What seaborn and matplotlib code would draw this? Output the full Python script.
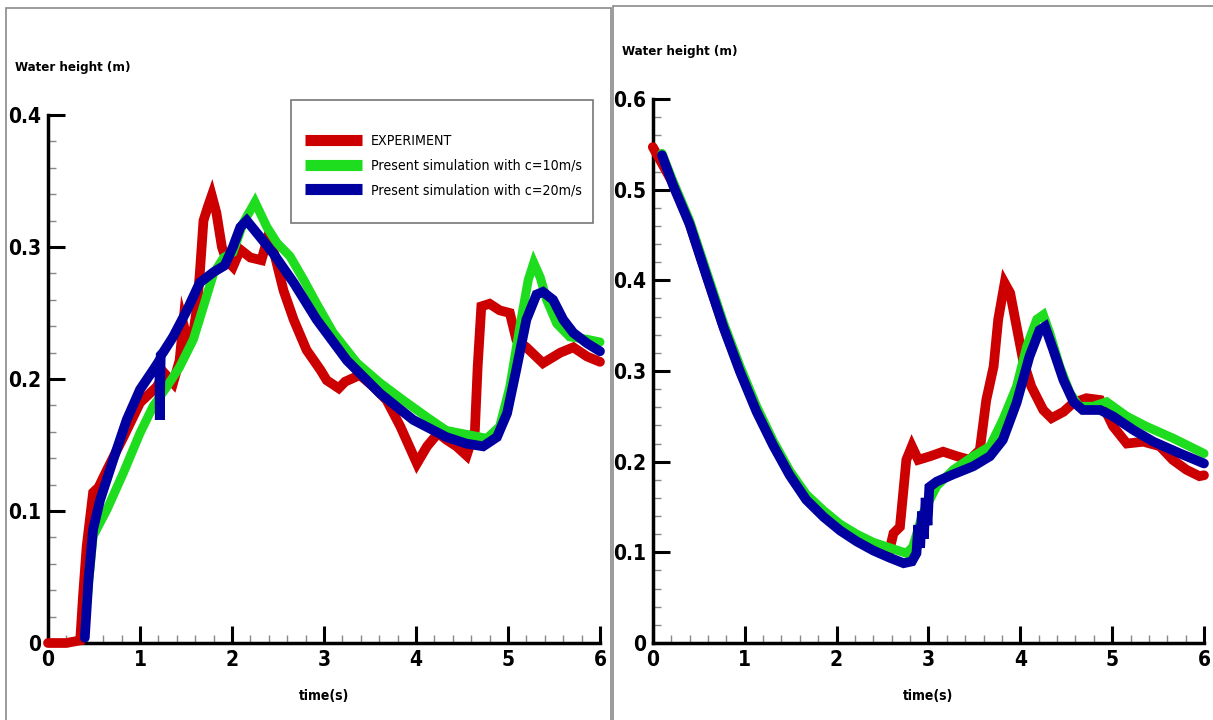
import matplotlib
matplotlib.use("Agg")
import matplotlib.pyplot as plt
import pandas as pd
import seaborn as sns
from matplotlib.patches import Rectangle
from matplotlib.ticker import FuncFormatter, MultipleLocator

# ---- data ----
# left panel
t_exp_left = [0, 0.2, 0.35, 0.38, 0.42, 0.49, 0.55, 0.64, 0.82, 1.0,
              1.18, 1.27, 1.36, 1.43, 1.47, 1.52, 1.58, 1.62, 1.65, 1.69,
              1.74, 1.78, 1.83, 1.89, 1.94, 2.01, 2.09, 2.2, 2.32, 2.38,
              2.46, 2.56, 2.67, 2.81, 2.96, 3.03, 3.16, 3.23, 3.39, 3.54,
              3.68, 3.83, 4.01, 4.12, 4.24, 4.33, 4.44, 4.55, 4.64, 4.67,
              4.71, 4.8, 4.91, 5.02, 5.09, 5.2, 5.38, 5.57, 5.71, 5.86, 6.0]
h_exp_left = [0, 0, 0.002, 0.035, 0.073, 0.114, 0.118, 0.131, 0.156, 0.182,
              0.194, 0.204, 0.197, 0.214, 0.242, 0.228, 0.235, 0.255, 0.28, 0.32,
              0.331, 0.339, 0.326, 0.30, 0.29, 0.285, 0.298, 0.292, 0.29, 0.305,
              0.295, 0.267, 0.245, 0.222, 0.207, 0.199, 0.193, 0.198, 0.203, 0.194,
              0.184, 0.164, 0.136, 0.149, 0.159, 0.154, 0.149, 0.142, 0.161, 0.209,
              0.255, 0.257, 0.252, 0.25, 0.23, 0.224, 0.212, 0.22, 0.224, 0.217, 0.213]

t_c10_left = [0.42, 0.49, 0.64, 0.82, 1.0, 1.14, 1.29, 1.43, 1.58, 1.69,
              1.8, 1.91, 2.01, 2.12, 2.25, 2.38, 2.49, 2.63, 2.78, 2.92,
              3.1, 3.36, 3.61, 3.86, 4.12, 4.33, 4.55, 4.77, 4.91, 5.02,
              5.13, 5.22, 5.28, 5.35, 5.42, 5.53, 5.67, 5.86, 6.0]
h_c10_left = [0.03, 0.081, 0.101, 0.129, 0.159, 0.179, 0.194, 0.209, 0.23, 0.255,
              0.28, 0.292, 0.296, 0.318, 0.334, 0.315, 0.303, 0.293, 0.275, 0.257,
              0.235, 0.212, 0.197, 0.184, 0.171, 0.161, 0.158, 0.155, 0.164, 0.194,
              0.24, 0.275, 0.288, 0.277, 0.26, 0.242, 0.232, 0.23, 0.228]

t_c20_left = [0.4, 0.44, 0.49, 0.565, 0.71, 0.855, 1.0, 1.145, 1.21, 1.215,
              1.225, 1.25, 1.36, 1.51, 1.65, 1.8, 1.92, 2.01, 2.09, 2.16,
              2.3, 2.45, 2.67, 2.92, 3.25, 3.61, 3.97, 4.33, 4.55, 4.73,
              4.88, 4.99, 5.09, 5.2, 5.31, 5.38, 5.49, 5.6, 5.71, 5.86, 6.0]
h_c20_left = [0.004, 0.048, 0.086, 0.108, 0.139, 0.169, 0.192, 0.207, 0.214, 0.169,
              0.218, 0.22, 0.232, 0.252, 0.273, 0.281, 0.286, 0.30, 0.315, 0.32,
              0.308, 0.295, 0.273, 0.245, 0.214, 0.189, 0.169, 0.156, 0.151, 0.149,
              0.156, 0.174, 0.207, 0.245, 0.264, 0.266, 0.26, 0.245, 0.235, 0.227, 0.221]

# right panel
t_exp_right = [0.0, 0.22, 0.4, 0.59, 0.77, 0.95, 1.13, 1.31, 1.49, 1.67,
               1.86, 2.04, 2.22, 2.4, 2.58, 2.62, 2.69, 2.76, 2.82, 2.89,
               3.02, 3.16, 3.31, 3.45, 3.56, 3.63, 3.71, 3.76, 3.83, 3.89,
               3.96, 4.03, 4.12, 4.25, 4.34, 4.47, 4.58, 4.72, 4.87, 5.01,
               5.16, 5.34, 5.52, 5.66, 5.81, 5.95, 6.0]
h_exp_right = [0.547, 0.507, 0.463, 0.404, 0.349, 0.301, 0.257, 0.22, 0.187, 0.161,
               0.143, 0.128, 0.117, 0.108, 0.104, 0.121, 0.128, 0.202, 0.217, 0.202,
               0.206, 0.211, 0.206, 0.202, 0.213, 0.268, 0.305, 0.357, 0.397, 0.386,
               0.349, 0.312, 0.283, 0.257, 0.248, 0.255, 0.265, 0.27, 0.268, 0.239,
               0.22, 0.222, 0.217, 0.202, 0.191, 0.184, 0.185]

t_c10_right = [0.1, 0.22, 0.4, 0.59, 0.77, 0.95, 1.13, 1.31, 1.49, 1.67,
               1.86, 2.04, 2.22, 2.4, 2.58, 2.76, 2.83, 2.94, 3.09, 3.27,
               3.49, 3.67, 3.81, 3.96, 4.07, 4.18, 4.25, 4.32, 4.43, 4.54,
               4.64, 4.79, 4.94, 5.16, 5.37, 5.66, 6.0]
h_c10_right = [0.54, 0.509, 0.466, 0.408, 0.353, 0.305, 0.261, 0.223, 0.19, 0.164,
               0.146, 0.131, 0.12, 0.111, 0.105, 0.099, 0.106, 0.143, 0.173, 0.191,
               0.206, 0.217, 0.246, 0.283, 0.327, 0.357, 0.362, 0.342, 0.305, 0.276,
               0.261, 0.261, 0.266, 0.25, 0.239, 0.226, 0.209]

t_c20_right = [0.1, 0.22, 0.4, 0.59, 0.77, 0.95, 1.13, 1.31, 1.49, 1.67,
               1.86, 2.04, 2.22, 2.4, 2.58, 2.73, 2.82, 2.87, 2.89, 2.91,
               2.93, 2.95, 2.97, 2.99, 3.01, 3.09, 3.27, 3.49, 3.67, 3.81,
               3.96, 4.1, 4.21, 4.27, 4.36, 4.47, 4.58, 4.68, 4.87, 5.01,
               5.23, 5.45, 5.74, 6.0]
h_c20_right = [0.538, 0.505, 0.462, 0.403, 0.348, 0.299, 0.255, 0.218, 0.185, 0.158,
               0.139, 0.124, 0.112, 0.102, 0.094, 0.088, 0.09, 0.099, 0.13, 0.105,
               0.145, 0.115, 0.16, 0.13, 0.172, 0.178, 0.186, 0.195, 0.206, 0.224,
               0.265, 0.316, 0.345, 0.349, 0.323, 0.29, 0.266, 0.257, 0.257, 0.25,
               0.235, 0.222, 0.209, 0.198]

labels = ["EXPERIMENT",
          "Present simulation with c=10m/s",
          "Present simulation with c=20m/s"]
palette = {labels[0]: "#CC0000", labels[1]: "#1EDC1E", labels[2]: "#0000A0"}
widths = {labels[0]: 7.0, labels[1]: 6.5, labels[2]: 7.0}


def make_frame(series):
    parts = []
    for name, (t, h) in zip(labels, series):
        parts.append(pd.DataFrame({"time": t, "height": h, "series": name}))
    return pd.concat(parts, ignore_index=True)


left_df = make_frame([(t_exp_left, h_exp_left), (t_c10_left, h_c10_left),
                      (t_c20_left, h_c20_left)])
right_df = make_frame([(t_exp_right, h_exp_right), (t_c10_right, h_c10_right),
                       (t_c20_right, h_c20_right)])

sns.set_style("white")
plt.rcParams["font.family"] = ["DejaVu Sans"]
plt.rcParams["font.stretch"] = "condensed"

W, H = 1213, 720
fig = plt.figure(figsize=(W / 100, H / 100), dpi=100)

ax_l = fig.add_axes([48 / W, 77 / H, 552 / W, 528 / H])
ax_r = fig.add_axes([652.8 / W, 77 / H, 551.2 / W, 544 / H])


def draw_panel(ax, df, ymax):
    for name in labels:
        sub = df[df["series"] == name]
        sns.lineplot(data=sub, x="time", y="height", ax=ax, color=palette[name],
                     linewidth=widths[name], estimator=None, sort=False,
                     legend=False, label=name)
    for line in ax.get_lines():
        line.set_clip_on(False)
        line.set_solid_joinstyle("miter")
    ax.set_xlim(0, 6)
    ax.set_ylim(0, ymax)
    sns.despine(ax=ax)
    for side in ["left", "bottom"]:
        ax.spines[side].set_linewidth(2.5)
        ax.spines[side].set_color("black")
        ax.spines[side].set_zorder(1)
    ax.xaxis.set_major_locator(MultipleLocator(1))
    ax.xaxis.set_minor_locator(MultipleLocator(0.2))
    ax.yaxis.set_major_locator(MultipleLocator(0.1))
    ax.yaxis.set_minor_locator(MultipleLocator(0.02))
    ax.yaxis.set_major_formatter(FuncFormatter(lambda v, _: f"{v:g}"))
    ax.tick_params(which="major", direction="in", length=12, width=2.2,
                   labelsize=15, pad=5, color="black", labelcolor="black")
    ax.tick_params(which="minor", direction="in", length=6, width=1,
                   color="#888888")
    ax.tick_params(axis="x", which="both", bottom=True)
    ax.tick_params(axis="y", which="both", left=True)
    for lab in ax.get_xticklabels() + ax.get_yticklabels():
        lab.set_fontweight("bold")
    ax.set_xlabel("time(s)", fontsize=10, fontweight="bold", labelpad=14,
                  color="black")
    ax.set_ylabel("")


draw_panel(ax_l, left_df, 0.4)
draw_panel(ax_r, right_df, 0.6)

# y-axis titles sit above the axes, horizontal
fig.text(15 / W, 1 - 68 / H, "Water height (m)", fontsize=9.5,
         fontweight="bold", va="center", ha="left", color="black")
fig.text(622 / W, 1 - 52 / H, "Water height (m)", fontsize=9.5,
         fontweight="bold", va="center", ha="left", color="black")

# legend in the left panel, with its own box
ax_l.add_patch(Rectangle((0.44, 0.795), 0.547, 0.233, transform=ax_l.transAxes,
                         fill=True, facecolor="white", edgecolor="#777777",
                         lw=1.2, clip_on=False, zorder=5))
leg = ax_l.legend(handles=ax_l.get_lines()[:3], labels=labels,
                  loc="upper left", bbox_to_anchor=(0.4656, 0.964),
                  frameon=False, fontsize=10.2, handlelength=4.0,
                  handletextpad=0.65, labelspacing=0.75, borderpad=0,
                  borderaxespad=0)
leg.set_zorder(6)
for h in leg.legend_handles:
    h.set_linewidth(8)
    h.set_solid_capstyle("butt")
for txt in leg.get_texts():
    txt.set_color("black")

# panel frames
fig.add_artist(Rectangle((6 / W, -0.01), 605 / W, 1.01 - 8 / H,
                         transform=fig.transFigure, fill=False,
                         edgecolor="#8a8a8a", lw=1.2))
fig.add_artist(Rectangle((613 / W, -0.01), 0.6, 1.01 - 6 / H,
                         transform=fig.transFigure, fill=False,
                         edgecolor="#8a8a8a", lw=1.2))

fig.savefig("out.png", dpi=100)
